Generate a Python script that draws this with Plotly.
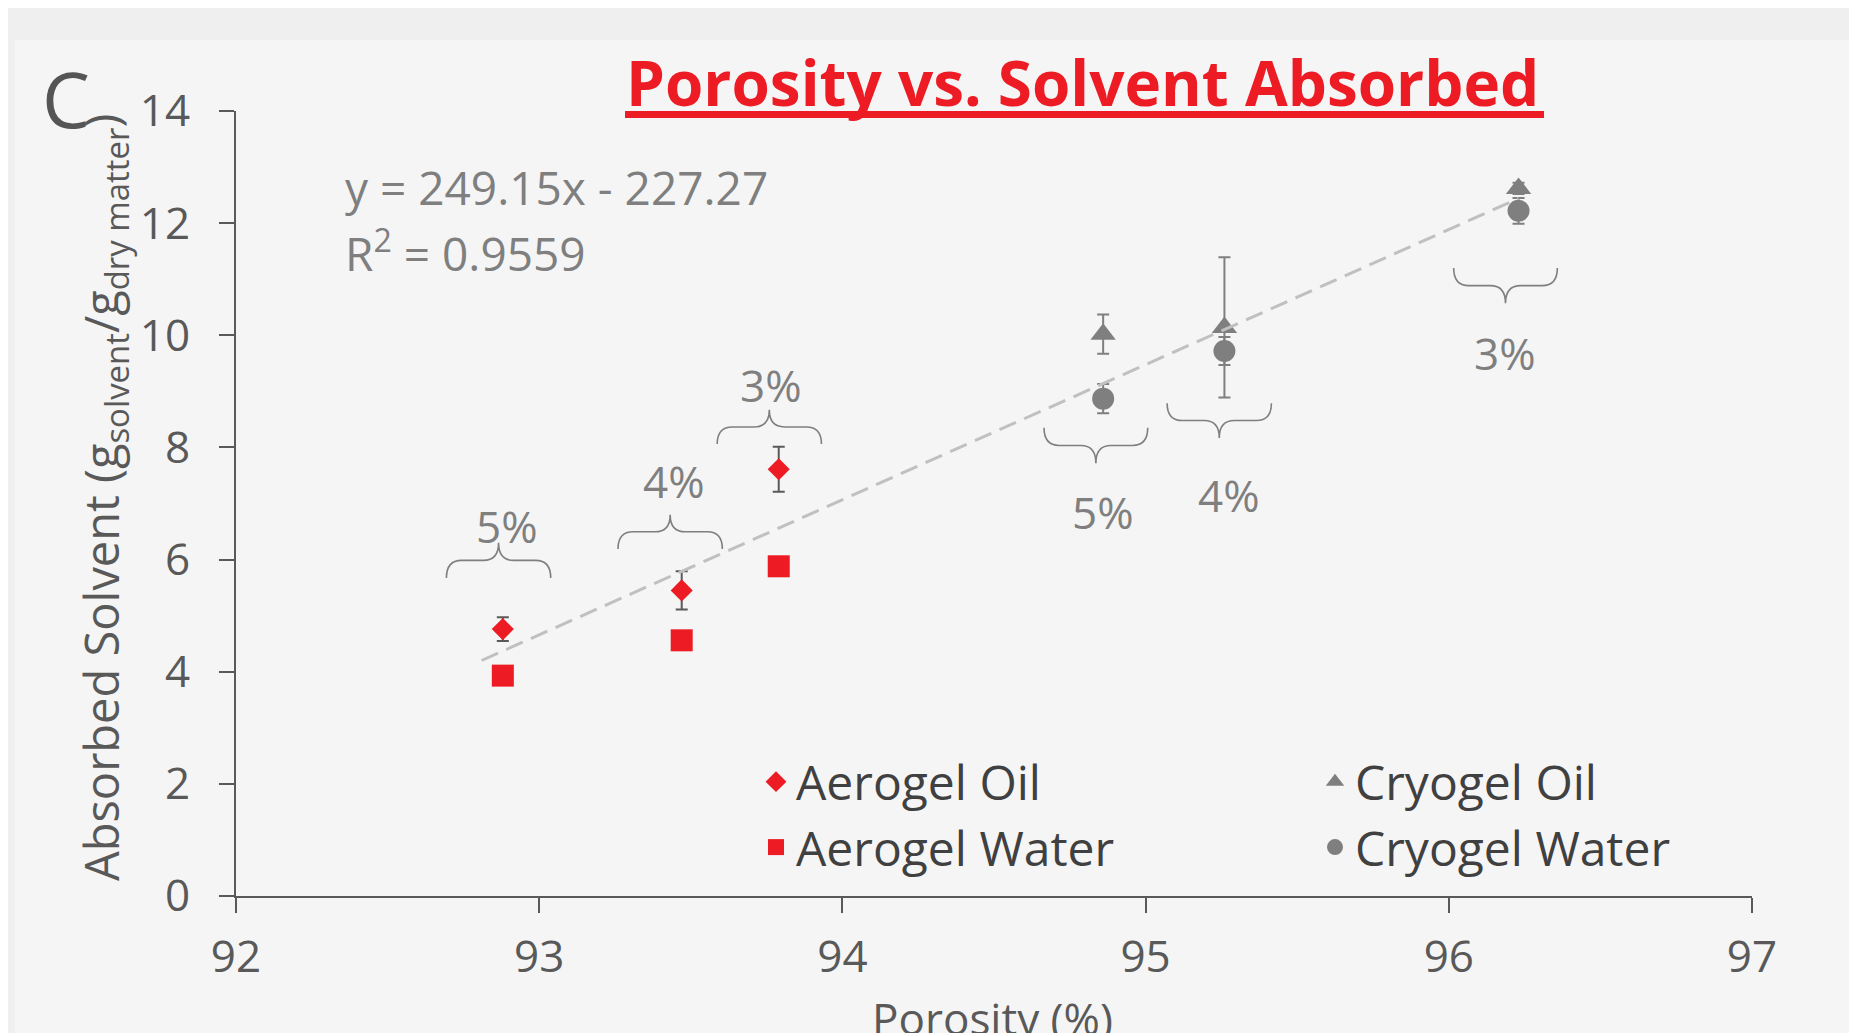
import plotly.graph_objects as go

# ── Data ──────────────────────────────────────────────────────────────────────
POROSITY_AEROGEL = [92.88, 93.47, 93.79]
AEROGEL_OIL = [4.76, 5.45, 7.61]
AEROGEL_OIL_ERR = [0.21, 0.34, 0.40]
AEROGEL_WATER = [3.93, 4.56, 5.88]

POROSITY_CRYOGEL = [94.86, 95.26, 96.23]
CRYOGEL_OIL = [10.02, 10.14, 12.62]
CRYOGEL_OIL_ERR = [0.35, 1.25, 0.10]
CRYOGEL_WATER = [8.87, 9.72, 12.22]
CRYOGEL_WATER_ERR = [0.26, 0.25, 0.23]

GEL_CONCENTRATION = ["5%", "4%", "3%"]

TREND_X = [92.81, 96.23]
TREND_Y = [4.20, 12.44]
EQUATION = "y = 249.15x - 227.27"
R_SQUARED = "R<sup>2</sup> = 0.9559"

X_TICKS = [92, 93, 94, 95, 96, 97]
Y_TICKS = [0, 2, 4, 6, 8, 10, 12, 14]

# ── Style ─────────────────────────────────────────────────────────────────────
W, H = 1857, 1033          # browser window
OFF = 8                    # default body margin of the html page
FW, FH = W - OFF, H - OFF  # figure size
ML, MR, MT, MB = 228, 105, 103, 137
PW, PH = FW - ML - MR, FH - MT - MB

RED = "#ED1C24"
GREY = "#7F7F7F"
DARK = "#595959"
FONT = "Open Sans"


def px_x(p):
    """window pixel -> paper x"""
    return (p - OFF - ML) / PW


def px_y(p):
    """window pixel -> paper y"""
    return (OFF + MT + PH - p) / PH


def brace_path(cx, hw, y_end, y_tip, r=0.05):
    """Horizontal curly brace in data coords, tip pointing to y_tip."""
    ym = (y_end + y_tip) / 2
    x0, x1 = cx - hw, cx + hw
    return (
        f"M{x0},{y_end} Q{x0},{ym} {x0 + r},{ym} L{cx - r},{ym} "
        f"Q{cx},{ym} {cx},{y_tip} Q{cx},{ym} {cx + r},{ym} "
        f"L{x1 - r},{ym} Q{x1},{ym} {x1},{y_end}"
    )


# brace centre, half width, end y, tip y, label x, label y
BRACES_AEROGEL = [
    (92.866, 0.172, 5.67, 6.30, 92.895, 6.60),
    (93.432, 0.172, 6.19, 6.80, 93.443, 7.40),
    (93.759, 0.172, 8.06, 8.67, 93.764, 9.11),
]
BRACES_CRYOGEL = [
    (94.836, 0.171, 8.35, 7.72, 94.861, 6.84),
    (95.243, 0.172, 8.79, 8.17, 95.276, 7.15),
    (96.187, 0.171, 11.20, 10.57, 96.186, 9.68),
]

fig = go.Figure()

fig.add_trace(go.Scatter(
    x=POROSITY_AEROGEL, y=AEROGEL_OIL, mode="markers", name="Aerogel Oil",
    marker=dict(symbol="diamond", size=17, color=RED),
    error_y=dict(type="data", array=AEROGEL_OIL_ERR, color=DARK,
                 thickness=2, width=6),
    legend="legend", legendgroup="a1",
))
fig.add_trace(go.Scatter(
    x=POROSITY_AEROGEL, y=AEROGEL_WATER, mode="markers", name="Aerogel Water",
    marker=dict(symbol="square", size=22, color=RED),
    legend="legend", legendgroup="a2",
))
fig.add_trace(go.Scatter(
    x=POROSITY_CRYOGEL, y=CRYOGEL_OIL, mode="markers", name="Cryogel Oil",
    marker=dict(symbol="triangle-up", size=22, color=GREY),
    error_y=dict(type="data", array=CRYOGEL_OIL_ERR, color=GREY,
                 thickness=2, width=6),
    legend="legend2", legendgroup="c1",
))
fig.add_trace(go.Scatter(
    x=POROSITY_CRYOGEL, y=CRYOGEL_WATER, mode="markers", name="Cryogel Water",
    marker=dict(symbol="circle", size=22, color=GREY),
    error_y=dict(type="data", array=CRYOGEL_WATER_ERR, color=GREY,
                 thickness=2, width=6),
    legend="legend2", legendgroup="c2",
))
fig.add_trace(go.Scatter(
    x=TREND_X, y=TREND_Y, mode="lines", showlegend=False,
    line=dict(color="#C0C0C0", width=3, dash="18px,9px"),
))

shapes = [
    # blurred backdrop strips around the panel
    dict(type="rect", xref="paper", yref="paper", layer="below",
         x0=px_x(0), x1=px_x(W), y0=px_y(40), y1=px_y(0),
         fillcolor="#EFEFEF", line_width=0),
    dict(type="rect", xref="paper", yref="paper", layer="below",
         x0=px_x(0), x1=px_x(15), y0=px_y(H), y1=px_y(0),
         fillcolor="#EFEFEF", line_width=0),
    # title underline
    dict(type="line", xref="paper", yref="paper",
         x0=px_x(625), x1=px_x(1544), y0=px_y(114.5), y1=px_y(114.5),
         line=dict(color=RED, width=7)),
]
annotations = []
for (cx, hw, ye, yt, lx, ly), label in zip(BRACES_AEROGEL + BRACES_CRYOGEL,
                                           GEL_CONCENTRATION * 2):
    shapes.append(dict(type="path", xref="x", yref="y",
                       path=brace_path(cx, hw, ye, yt),
                       line=dict(color=GREY, width=1.6)))
    annotations.append(dict(x=lx, y=ly, xref="x", yref="y", text=label,
                            showarrow=False, xanchor="center", yanchor="middle",
                            font=dict(family=FONT, size=44, color=GREY)))

annotations += [
    dict(x=92.354, y=12.65, xref="x", yref="y", text=EQUATION, showarrow=False,
         xanchor="left", yanchor="middle",
         font=dict(family=FONT, size=46, color=GREY)),
    dict(x=92.354, y=11.50, xref="x", yref="y", text=R_SQUARED, showarrow=False,
         xanchor="left", yanchor="middle",
         font=dict(family=FONT, size=46, color=GREY)),
    dict(x=px_x(1082), y=px_y(82), xref="paper", yref="paper",
         text="<b>Porosity vs. Solvent Absorbed</b>", showarrow=False,
         xanchor="center", yanchor="middle",
         font=dict(family=FONT, size=62, color=RED)),
    dict(x=px_x(66), y=px_y(98), xref="paper", yref="paper", text="C",
         showarrow=False, xanchor="center", yanchor="middle",
         font=dict(family=FONT, size=76, color="#555555")),
    dict(x=px_x(104), y=px_y(498), xref="paper", yref="paper",
         text="Absorbed Solvent (g<sub>solvent</sub>/g<sub>dry matter</sub>)",
         textangle=-90, showarrow=False, xanchor="center", yanchor="middle",
         font=dict(family=FONT, size=47, color=DARK)),
    dict(x=px_x(992), y=px_y(1018), xref="paper", yref="paper",
         text="Porosity (%)", showarrow=False, xanchor="center",
         yanchor="middle", font=dict(family=FONT, size=44, color=DARK)),
]

axis_common = dict(
    showgrid=False, zeroline=False, showline=True, linecolor=DARK,
    linewidth=2, ticks="outside", ticklen=15, tickwidth=2, tickcolor=DARK,
    tickfont=dict(family=FONT, size=44, color=DARK),
)
legend_common = dict(
    orientation="v", xanchor="left", yanchor="top", bgcolor="rgba(0,0,0,0)",
    font=dict(family=FONT, size=48, color="#404040"), tracegroupgap=0,
    itemsizing="trace",
)

fig.update_layout(
    width=FW, height=FH,
    margin=dict(l=ML, r=MR, t=MT, b=MB),
    paper_bgcolor="#F5F5F5",
    plot_bgcolor="#F5F5F5",
    xaxis=dict(range=[92, 97], tickvals=X_TICKS, ticklabelstandoff=6,
               **axis_common),
    yaxis=dict(range=[0, 14], tickvals=Y_TICKS, ticklabelstandoff=20,
               **axis_common),
    showlegend=True,
    legend=dict(x=px_x(756), y=px_y(744), **legend_common),
    legend2=dict(x=px_x(1315), y=px_y(744), **legend_common),
    shapes=shapes,
    annotations=annotations,
)

fig.write_html("out.html")
